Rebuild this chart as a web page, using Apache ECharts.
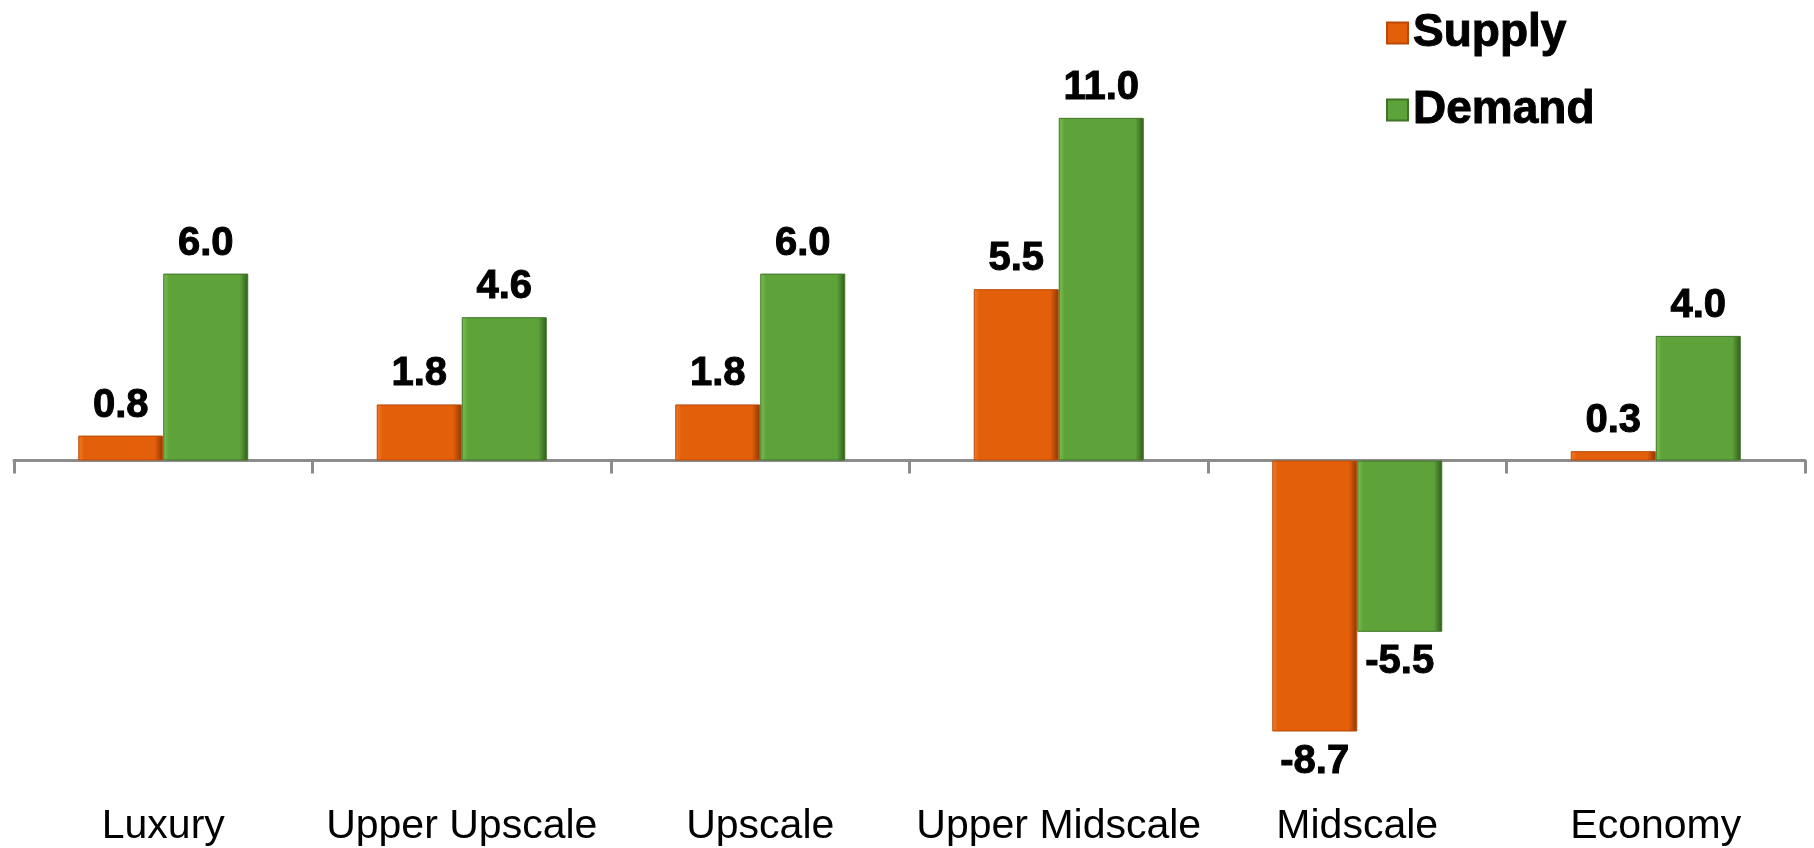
<!DOCTYPE html>
<html>
<head>
<meta charset="utf-8">
<script src="https://cdn.jsdelivr.net/npm/echarts@6/dist/echarts.min.js"></script>
<style>
  html, body { margin: 0; padding: 0; background: #fff; }
  #chart { width: 1814px; height: 848px; }
</style>
</head>
<body>
<div id="chart"></div>
<script>
// Hotel chain scale segments
const categories = ['Luxury', 'Upper Upscale', 'Upscale', 'Upper Midscale', 'Midscale', 'Economy'];
// Percent change by segment
const supply = [0.8, 1.8, 1.8, 5.5, -8.7, 0.3];
const demand = [6.0, 4.6, 6.0, 11.0, -5.5, 4.0];

const FONT = '"Liberation Sans", Arial, Helvetica, sans-serif';

// Bevel-like shading: light left edge, flat body, dark right edge
function bevel(light, base, dark) {
  return new echarts.graphic.LinearGradient(0, 0, 1, 0, [
    { offset: 0, color: light },
    { offset: 0.07, color: base },
    { offset: 0.9, color: base },
    { offset: 1, color: dark }
  ]);
}

const orangeFill = bevel('#f27d2a', '#e35f0a', '#8a3604');
const greenFill = bevel('#7cc052', '#5ea33a', '#2f5a1c');

function barData(values) {
  return values.map(v => ({
    value: v,
    label: { position: v < 0 ? 'bottom' : 'top' }
  }));
}

const valueLabel = {
  show: true,
  distance: 10,
  color: '#000',
  fontFamily: FONT,
  fontWeight: 'bold',
  fontSize: 40,
  textBorderColor: '#000',
  textBorderWidth: 1,
  formatter: p => p.value.toFixed(1)
};

const chart = echarts.init(document.getElementById('chart'));
chart.setOption({
  animation: false,
  backgroundColor: '#ffffff',
  grid: { left: 14, right: 9, top: 86.7, bottom: 76, containLabel: false },
  legend: {
    orient: 'vertical',
    left: 1381,
    top: 3,
    itemWidth: 21,
    itemHeight: 21,
    itemGap: 27,
    icon: 'rect',
    textStyle: {
      color: '#000',
      fontFamily: FONT,
      fontWeight: 'bold',
      fontSize: 46,
      lineHeight: 50,
      textBorderColor: '#000',
      textBorderWidth: 1
    },
    data: ['Supply', 'Demand']
  },
  xAxis: [
    {
      type: 'category',
      data: categories,
      axisLine: { onZero: true, lineStyle: { color: '#8c8c8c', width: 3 } },
      axisTick: { show: true, length: 13, lineStyle: { color: '#8c8c8c', width: 3 } },
      axisLabel: { show: false },
      splitLine: { show: false }
    },
    {
      type: 'category',
      data: categories,
      position: 'bottom',
      axisLine: { show: false, onZero: false },
      axisTick: { show: false },
      axisLabel: {
        interval: 0,
        color: '#000',
        fontFamily: FONT,
        fontSize: 41,
        margin: 34
      }
    }
  ],
  yAxis: {
    type: 'value',
    min: -10,
    max: 12,
    show: false,
    splitLine: { show: false }
  },
  series: [
    {
      name: 'Supply',
      type: 'bar',
      xAxisIndex: 0,
      data: barData(supply),
      barWidth: 85,
      barGap: '0%',
      itemStyle: { color: orangeFill, borderColor: '#b84a06', borderWidth: 1 },
      label: valueLabel
    },
    {
      name: 'Demand',
      type: 'bar',
      xAxisIndex: 0,
      data: barData(demand),
      barWidth: 85,
      barGap: '0%',
      itemStyle: { color: greenFill, borderColor: '#3f7426', borderWidth: 1 },
      label: valueLabel
    }
  ]
});
</script>
</body>
</html>
